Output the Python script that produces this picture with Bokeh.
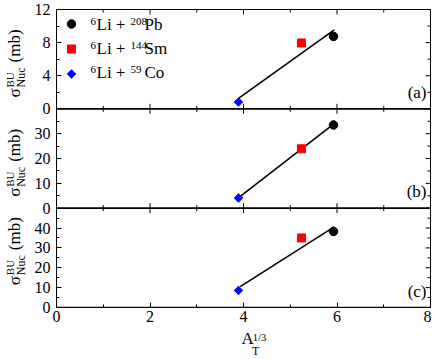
import math
from bokeh.plotting import figure
from bokeh.layouts import row, column
from bokeh.models import (Range1d, FixedTicker, SingleIntervalTicker,
                          Span, Label, CustomJSTickFormatter)
from bokeh.embed import file_html
from bokeh.resources import INLINE

FONT = "Liberation Serif"

# ---------------- data ----------------
panel_names = ["a", "b", "c"]            # top to bottom
x_pb, x_sm, x_co = 5.925, 5.241, 3.893    # A_T^(1/3) of 208Pb, 144Sm, 59Co
pb_vals = [8.75, 33.5, 38.3]
sm_vals = [7.96, 23.9, 35.0]
co_vals = [0.83, 4.1, 8.6]
fit_x = [[3.90, 5.94], [3.89, 5.94], [3.93, 5.94]]
fit_y = [[1.3, 9.55], [4.1, 34.0], [10.5, 40.6]]
y_max = [12, 40, 50]
y_tick_vals = [[0, 4, 8, 12], [0, 10, 20, 30], [0, 10, 20, 30, 40]]
y_minor_vals = [[2, 6, 10], [5, 15, 25, 35], [5, 15, 25, 35, 45]]
x_major = [0, 2, 4, 6, 8]
x_minor = [1, 3, 5, 7]
legend_labels = [("6", "208", "Pb"), ("6", "144", "Sm"), ("6", "59", "Co")]
panel_tags = ["(a)", "(b)", "(c)"]

# ---------------- layout constants ----------------
YL_W = 31                                  # strip holding the rotated y titles
B_LEFT, B_RIGHT, B_TOP, B_BOTTOM = 24, 1, 9, 22
FRAME_W, FRAME_H = 374, 298
W = B_LEFT + FRAME_W + B_RIGHT
H = B_TOP + FRAME_H + B_BOTTOM
XL_H = 29                                  # strip holding the x title
N = 3
MAJ_IN, MIN_IN = 5, 3
X0, X1 = 0, 8

# pixel helpers used only for placing annotation text in the main frame
PX_X0 = YL_W + B_LEFT
PX_PER_X = FRAME_W / (X1 - X0)
PX_BOTTOM = B_TOP + FRAME_H
PANEL_PX = FRAME_H / N
def rx(px):
    return (px - PX_X0) / PX_PER_X
def ry(py):
    return (PX_BOTTOM - py) / PANEL_PX

p = figure(width=W, height=H, frame_width=FRAME_W, frame_height=FRAME_H,
           x_range=Range1d(X0, X1), y_range=Range1d(0, N),
           output_backend="svg", toolbar_location=None,
           min_border_left=B_LEFT, min_border_right=B_RIGHT,
           min_border_top=B_TOP, min_border_bottom=B_BOTTOM)
p.grid.visible = False
p.outline_line_color = "black"
p.outline_line_width = 1
p.background_fill_color = "white"
p.border_fill_color = "white"

def style_axis(ax):
    ax.axis_line_color = "black"
    ax.major_tick_in = MAJ_IN
    ax.major_tick_out = 0
    ax.minor_tick_in = MIN_IN
    ax.minor_tick_out = 0
    ax.major_tick_line_color = "black"
    ax.minor_tick_line_color = "black"
    ax.axis_label = None
    ax.major_label_text_font = FONT
    ax.major_label_text_color = "black"
    ax.major_label_text_font_size = "16px"

# x axis
xb = p.xaxis[0]
xb.ticker = SingleIntervalTicker(interval=2, num_minor_ticks=2)
style_axis(xb)
xb.major_label_standoff = 3

# y: stacked panels, each with its own range
extra = {}
tick_pos, tick_lab, minor_pos = [], [], []
for i, (name, m) in enumerate(zip(panel_names, y_max)):
    k = N - 1 - i  # stack offset of panel
    extra[name] = Range1d(start=-k * m, end=(N - k) * m)
    for v in y_tick_vals[i]:
        tick_pos.append(k + v / m)
        tick_lab.append(str(v))
    for v in y_minor_vals[i]:
        minor_pos.append(k + v / m)
p.extra_y_ranges = extra

fmt = CustomJSTickFormatter(args=dict(pos=tick_pos, lab=tick_lab), code="""
let best = -1, bd = 1e9;
for (let i = 0; i < pos.length; i++) {
  const d = Math.abs(pos[i] - tick);
  if (d < bd) { bd = d; best = i; }
}
return bd < 1e-6 ? lab[best] : "";
""")
yl = p.yaxis[0]
yl.ticker = FixedTicker(ticks=tick_pos, minor_ticks=minor_pos)
style_axis(yl)
yl.formatter = fmt
yl.major_label_standoff = 6

# mirrored ticks (right edge, top edge, inner panel boundaries)
Lx_maj = MAJ_IN * (X1 - X0) / FRAME_W
Lx_min = MIN_IN * (X1 - X0) / FRAME_W
Ly_maj = MAJ_IN * N / FRAME_H
Ly_min = MIN_IN * N / FRAME_H
p.segment(x0=[X1 - Lx_maj] * len(tick_pos), y0=tick_pos, x1=[X1] * len(tick_pos), y1=tick_pos,
          line_color="black", line_width=1)
p.segment(x0=[X1 - Lx_min] * len(minor_pos), y0=minor_pos, x1=[X1] * len(minor_pos), y1=minor_pos,
          line_color="black", line_width=1)
p.segment(x0=x_major, y0=[N - Ly_maj] * len(x_major), x1=x_major, y1=[N] * len(x_major),
          line_color="black", line_width=1)
p.segment(x0=x_minor, y0=[N - Ly_min] * len(x_minor), x1=x_minor, y1=[N] * len(x_minor),
          line_color="black", line_width=1)
for b in range(1, N):
    p.segment(x0=x_major, y0=[b - Ly_maj] * len(x_major), x1=x_major, y1=[b + Ly_maj] * len(x_major),
              line_color="black", line_width=1)
    p.segment(x0=x_minor, y0=[b - Ly_min] * len(x_minor), x1=x_minor, y1=[b + Ly_min] * len(x_minor),
              line_color="black", line_width=1)

# data per panel
for i, name in enumerate(panel_names):
    p.add_layout(Span(location=0, dimension="width", y_range_name=name,
                      line_color="black", line_width=1.6))
    p.line(fit_x[i], fit_y[i], y_range_name=name, line_color="black", line_width=1.6)
    p.scatter([x_pb], [pb_vals[i]], y_range_name=name, marker="circle", size=8.5,
              fill_color="black", line_color="black")
    p.scatter([x_sm], [sm_vals[i]], y_range_name=name, marker="square", size=8,
              fill_color="#ff0000", line_color="#ff0000")
    p.scatter([x_co], [co_vals[i]], y_range_name=name, marker="square", angle=math.pi / 4,
              size=6, fill_color="#0000ff", line_color="#0000ff")
    panel_bot = B_TOP + (i + 1) * PANEL_PX
    p.add_layout(Label(x=rx(425), y=ry(panel_bot - 7), text=panel_tags[i], text_align="right",
                       text_font=FONT, text_font_size="17px", text_color="black"))

# legend (panel a), offsets measured from the frame top
leg_marker_off = [14.5, 39.5, 64.5]
leg_base_off = [24, 48, 72]
markers = [dict(marker="circle", size=8.5, fill_color="black", line_color="black", angle=0),
           dict(marker="square", size=8, fill_color="#ff0000", line_color="#ff0000", angle=0),
           dict(marker="square", size=6, fill_color="#0000ff", line_color="#0000ff", angle=math.pi / 4)]
for j, (a6, mass, el) in enumerate(legend_labels):
    p.scatter([rx(70)], [ry(B_TOP + leg_marker_off[j])], **markers[j])
    base = B_TOP + leg_base_off[j]
    p.add_layout(Label(x=rx(89), y=ry(base - 9), text=a6, text_font=FONT,
                       text_font_size="11px", text_color="black"))
    p.add_layout(Label(x=rx(95), y=ry(base), text="Li +", text_font=FONT,
                       text_font_size="17px", text_color="black"))
    p.add_layout(Label(x=rx(129), y=ry(base - 9), text=mass, text_font=FONT,
                       text_font_size="11px", text_color="black"))
    p.add_layout(Label(x=rx(143), y=ry(base), text=el, text_font=FONT,
                       text_font_size="17px", text_color="black"))

# ---- strip with the rotated y titles (pixel coordinates, y downwards) ----
yfig = figure(width=YL_W, height=H, x_range=Range1d(0, YL_W), y_range=Range1d(H, 0),
              output_backend="svg", toolbar_location=None,
              x_axis_location=None, y_axis_location=None, min_border=0)
yfig.grid.visible = False
yfig.outline_line_color = None
yfig.border_fill_color = "white"
for i in range(N):
    panel_top = B_TOP + i * PANEL_PX
    c_off = [50, 50, 39][i]
    s0 = panel_top + c_off + 38
    for txt, px, py, fs in [("σ", 23, s0, "17px"), ("BU", 15, s0 - 10, "11px"),
                            ("Nuc", 27, s0 - 10, "12px"), ("(mb)", 23, s0 - 35, "17px")]:
        yfig.add_layout(Label(x=px, y=py, text=txt, angle=math.pi / 2,
                              text_font=FONT, text_font_size=fs, text_color="black"))

# ---- strip with the x title ----
xfig = figure(width=W, height=XL_H, x_range=Range1d(YL_W, YL_W + W), y_range=Range1d(H + XL_H, H),
              output_backend="svg", toolbar_location=None,
              x_axis_location=None, y_axis_location=None, min_border=0)
xfig.grid.visible = False
xfig.outline_line_color = None
xfig.border_fill_color = "white"
xfig.add_layout(Label(x=229, y=347.5, text="A", text_font=FONT,
                      text_font_size="17px", text_color="black"))
xfig.add_layout(Label(x=240, y=357, text="T", text_font=FONT,
                      text_font_size="12px", text_color="black"))
xfig.add_layout(Label(x=241, y=342.5, text="1/3", text_font=FONT,
                      text_font_size="10.5px", text_color="black"))

layout = row(yfig, column(p, xfig, spacing=0), spacing=0)
open("out.html", "w").write(file_html(layout, INLINE))
